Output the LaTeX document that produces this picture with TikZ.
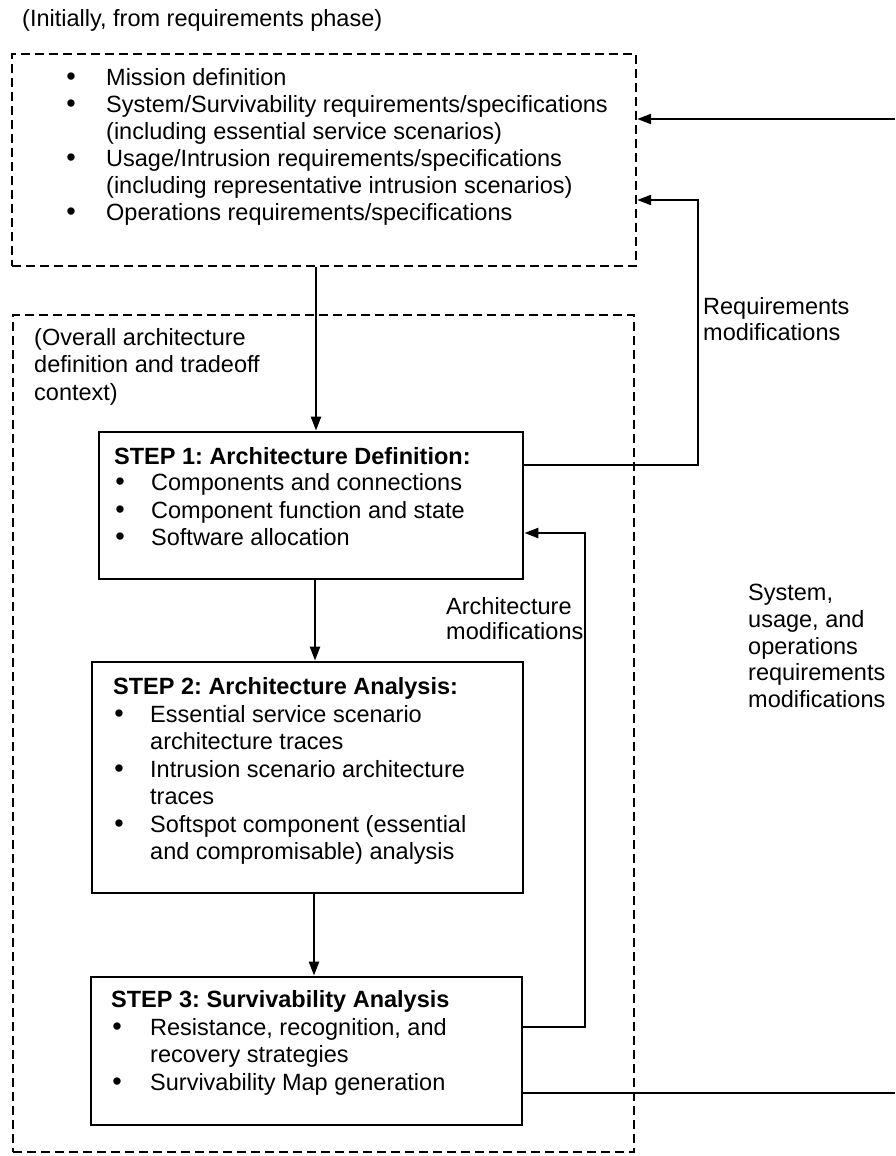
\documentclass[tikz,border=0pt]{standalone}
\usepackage{fontspec}
\setmainfont{Liberation Sans}
\usetikzlibrary{arrows.meta}
\newcommand{\fs}{\fontsize{23.5}{27}\selectfont\frenchspacing}
\newcommand{\bfs}{\fontsize{27}{27}\selectfont}
\begin{document}
\begin{tikzpicture}[x=1pt,y=-1pt,
  txt/.style={anchor=base west,inner sep=0pt,font=\fs},
  bul/.style={anchor=base,inner sep=0pt,font=\bfs},
  hd/.style={anchor=base west,inner sep=0pt,font=\fs\bfseries},
  stepbox/.style={draw,line width=2.8pt,rectangle,inner sep=0pt},
  dbox/.style={draw,line width=2.3pt,dash pattern=on 9pt off 5pt,rectangle,inner sep=0pt},
  conn/.style={line width=2.3pt},
  arr/.style={conn,-{Triangle[length=14pt,width=10pt]}}]

\useasboundingbox (0,0) rectangle (895,1156);

% boxes
\node[dbox,minimum width=624pt,minimum height=212pt] (topbox) at (324,160) {};
\node[dbox,minimum width=621pt,minimum height=837pt] (outer) at (323.5,733.5) {};
\node[stepbox,minimum width=424pt,minimum height=147pt] (step1) at (311,505.5) {};
\node[stepbox,minimum width=431pt,minimum height=231pt] (step2) at (307.5,777.5) {};
\node[stepbox,minimum width=431pt,minimum height=148pt] (step3) at (306.5,1051) {};

% title
\node[txt] (title) at (22,27) {(Initially, from requirements phase)};

% top box contents
\node[bul] (tb1) at (71,85) {\textbullet};
\node[txt] (tt1) at (106,85) {Mission definition};
\node[bul] (tb2) at (71,112) {\textbullet};
\node[txt] (tt2) at (106,112) {System/Survivability requirements/specifications};
\node[txt] (tt3) at (106,139) {(including essential service scenarios)};
\node[bul] (tb4) at (71,166) {\textbullet};
\node[txt] (tt4) at (106,166) {Usage/Intrusion requirements/specifications};
\node[txt] (tt5) at (106,193) {(including representative intrusion scenarios)};
\node[bul] (tb6) at (71,220) {\textbullet};
\node[txt] (tt6) at (106,220) {Operations requirements/specifications};

% outer context label
\node[txt] (oc1) at (34,345) {(Overall architecture};
\node[txt] (oc2) at (34,372) {definition and tradeoff};
\node[txt] (oc3) at (34,400) {context)};

% step 1
\node[hd] (s1h) at (114,464) {STEP 1: Architecture Definition:};
\node[bul] (s1b1) at (120,490) {\textbullet};
\node[txt] (s1t1) at (151,490) {Components and connections};
\node[bul] (s1b2) at (120,518) {\textbullet};
\node[txt] (s1t2) at (151,518) {Component function and state};
\node[bul] (s1b3) at (120,545) {\textbullet};
\node[txt] (s1t3) at (151,545) {Software allocation};

% step 2
\node[hd] (s2h) at (113,694) {STEP 2: Architecture Analysis:};
\node[bul] (s2b1) at (119,722) {\textbullet};
\node[txt] (s2t1) at (150,722) {Essential service scenario};
\node[txt] (s2t2) at (150,749) {architecture traces};
\node[bul] (s2b3) at (119,777) {\textbullet};
\node[txt] (s2t3) at (150,777) {Intrusion scenario architecture};
\node[txt] (s2t4) at (150,804) {traces};
\node[bul] (s2b5) at (119,832) {\textbullet};
\node[txt] (s2t5) at (150,832) {Softspot component (essential};
\node[txt] (s2t6) at (150,859) {and compromisable) analysis};

% step 3
\node[hd] (s3h) at (111,1007) {STEP 3: Survivability Analysis};
\node[bul] (s3b1) at (117,1035) {\textbullet};
\node[txt] (s3t1) at (150,1035) {Resistance, recognition, and};
\node[txt] (s3t2) at (150,1062) {recovery strategies};
\node[bul] (s3b3) at (117,1090) {\textbullet};
\node[txt] (s3t3) at (150,1090) {Survivability Map generation};

% side labels
\node[txt] (rm1) at (703,314) {Requirements};
\node[txt] (rm2) at (703,340) {modifications};
\node[txt] (am1) at (446,614) {Architecture};
\node[txt] (am2) at (446,639) {modifications};
\node[txt] (sr1) at (748,600) {System,};
\node[txt] (sr2) at (748,627) {usage, and};
\node[txt] (sr3) at (748,654) {operations};
\node[txt] (sr4) at (748,680) {requirements};
\node[txt] (sr5) at (748,707) {modifications};

% helper coordinates
\coordinate (ax) at (316,0);
\coordinate (r1) at (698,465);
\coordinate (r2) at (698,200);
\coordinate (a1) at (585,1027);
\coordinate (a2) at (585,533);
\coordinate (e1) at (895,119);
\coordinate (e2) at (895,1093);

% connectors
\draw[arr] (topbox.south -| ax) -- (step1.north -| ax);
\draw[arr] ([xshift=-1pt]step1.south -| ax) -- ([xshift=-1pt]step2.north -| ax);
\draw[arr] ([xshift=-2pt]step2.south -| ax) -- ([xshift=-2pt]step3.north -| ax);
\draw[arr] (r1 -| step1.east) -- (r1) -- (r2) -- (r2 -| topbox.east);
\draw[arr] (a1 -| step3.east) -- (a1) -- (a2) -- (a2 -| step1.east);
\draw[arr] (e1) -- (e1 -| topbox.east);
\draw[conn] (e2 -| step3.east) -- (e2);
\end{tikzpicture}
\end{document}
